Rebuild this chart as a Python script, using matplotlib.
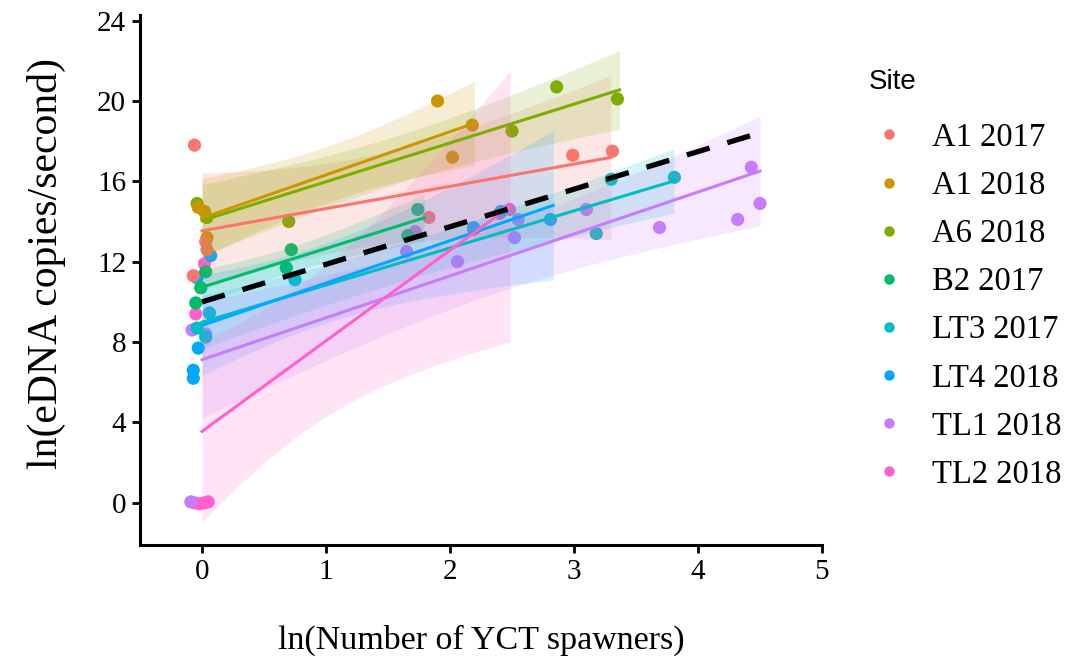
import numpy as np
import matplotlib
matplotlib.use("Agg")
import matplotlib.pyplot as plt
from matplotlib.lines import Line2D

SITES = ["A1 2017", "A1 2018", "A6 2018", "B2 2017", "LT3 2017", "LT4 2018", "TL1 2018", "TL2 2018"]

# ln(spawners) as plotted (small horizontal jitter), one list per site
LN_SPAWNERS = [
    [-0.06, 0.03, 0.04, -0.07, 1.83, 2.99, 3.31],
    [-0.03, 0.02, 0.04, 1.90, 2.02, 2.18],
    [-0.04, 0.04, 0.70, 2.50, 2.86, 3.35],
    [0.03, -0.01, -0.05, 0.72, 0.68, 1.74, 1.66],
    [-0.04, 0.03, 0.06, 0.75, 3.18, 3.30, 3.81],
    [0.07, -0.04, -0.03, -0.07, -0.07, 2.19, 2.41, 2.81],
    [-0.08, -0.09, 0.03, 1.65, 1.72, 2.06, 2.52, 2.55, 3.10, 3.69, 4.32, 4.43, 4.50],
    [-0.06, -0.02, 0.02, 0.05, -0.05, 0.02, 2.19, 2.40, 2.48],
]
# ln(eDNA copies/second)
LN_EDNA = [
    [17.8, 13.0, 12.6, 11.3, 14.2, 17.3, 17.5],
    [14.7, 14.5, 13.2, 20.0, 17.2, 18.8],
    [14.9, 14.2, 14.0, 18.5, 20.7, 20.1],
    [11.5, 10.7, 9.95, 12.6, 11.7, 14.6, 13.3],
    [8.7, 8.25, 9.45, 11.1, 13.4, 16.1, 16.2],
    [12.3, 11.2, 7.7, 6.6, 6.2, 13.7, 14.5, 14.1],
    [8.6, 0.05, 8.4, 12.5, 13.5, 12.0, 13.2, 14.1, 14.6, 13.7, 14.1, 16.7, 14.9],
    [0.0, -0.05, 0.0, 0.05, 9.4, 11.9, 13.6, 14.4, 14.6],
]

# fixed-effect line across all sites
FIXED_INTERCEPT = 10.0
FIXED_SLOPE = 1.87

COLORS = ["#F8766D", "#CD9600", "#7CAE00", "#00BE67", "#00BFC4", "#00A9FF", "#C77CFF", "#FF61CC"]

# two-sided 95% t quantiles by degrees of freedom
T975 = {1: 12.706, 2: 4.303, 3: 3.182, 4: 2.776, 5: 2.571, 6: 2.447, 7: 2.365,
        8: 2.306, 9: 2.262, 10: 2.228, 11: 2.201, 12: 2.179, 13: 2.160}


def lm_band(x, y, n_grid=80):
    """OLS line with 95% confidence band over the range of x."""
    slope, icpt = np.polyfit(x, y, 1)
    resid = y - (icpt + slope * x)
    n = len(x)
    s = np.sqrt(np.sum(resid ** 2) / (n - 2))
    sxx = np.sum((x - x.mean()) ** 2)
    xg = np.linspace(x.min(), x.max(), n_grid)
    fit = icpt + slope * xg
    se = s * np.sqrt(1.0 / n + (xg - x.mean()) ** 2 / sxx)
    half = T975[n - 2] * se
    return xg, fit, fit - half, fit + half


plt.rcParams["font.family"] = ["Liberation Serif", "DejaVu Serif"]

fig = plt.figure(figsize=(10.71, 6.62), dpi=100)
ax = fig.add_axes([0.1307, 0.1767, 0.6368, 0.8013])

# later sites underneath earlier ones
for k in reversed(range(len(SITES))):
    ax.scatter(LN_SPAWNERS[k], LN_EDNA[k], s=90, color=COLORS[k],
               edgecolors="none", zorder=2)

for xs, ys, col in zip(LN_SPAWNERS, LN_EDNA, COLORS):
    xs = np.asarray(xs)
    ys = np.asarray(ys)
    # jittered positions back to whole spawner counts
    x_fit = np.log(np.rint(np.exp(xs)))
    xg, fit, lo, hi = lm_band(x_fit, ys)
    ax.fill_between(xg, lo, hi, color=col, alpha=0.17, linewidth=0, zorder=3)
    ax.plot(xg, fit, color=col, lw=2.2, zorder=4)

xf = np.array([0.0, 4.5])
ax.plot(xf, FIXED_INTERCEPT + FIXED_SLOPE * xf, color="black", lw=3.8,
        dashes=(4.5, 3.5), zorder=5)

ax.set_xlim(-0.5, 5.0)
ax.set_ylim(-2.1, 24.3)
ax.set_xticks([0, 1, 2, 3, 4, 5])
ax.set_yticks([0, 4, 8, 12, 16, 20, 24])
for side in ("top", "right"):
    ax.spines[side].set_visible(False)
for side in ("left", "bottom"):
    ax.spines[side].set_linewidth(2.2)
ax.tick_params(axis="both", labelsize=21, width=2.0, length=6, direction="out", pad=4)
ax.set_xlabel("ln(Number of YCT spawners)", fontsize=24.5, labelpad=29)
ax.set_ylabel("ln(eDNA copies/second)", fontsize=30)
ax.yaxis.set_label_coords(-0.108, 0.53)

fig.text(869 / 1071, 1 - 82 / 662, "Site", family="Liberation Sans", fontsize=20,
         ha="left", va="center")
handles = [Line2D([], [], marker="o", linestyle="none", markersize=7.5,
                  markerfacecolor=c, markeredgecolor="none") for c in COLORS]
fig.legend(handles, SITES, loc="upper left", bbox_to_anchor=(0.800, 0.825),
           frameon=False, fontsize=23.5, handletextpad=0.5,
           handlelength=1.6, labelspacing=0.54, borderaxespad=0, borderpad=0.2)

fig.savefig("out.png", dpi=100)
